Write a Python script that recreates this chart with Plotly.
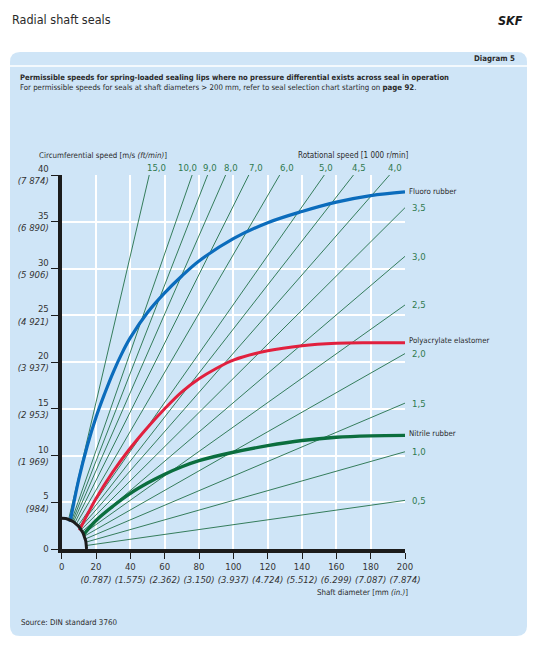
import numpy as np
import plotly.graph_objects as go

# axis ticks
shaft_diam_ticks = [0, 20, 40, 60, 80, 100, 120, 140, 160, 180, 200]
shaft_diam_in = ["", "0.787", "1.575", "2.362", "3.150", "3.937", "4.724", "5.512", "6.299", "7.087", "7.874"]
circ_speed_ticks = [0, 5, 10, 15, 20, 25, 30, 35, 40]
circ_speed_ftmin = ["", "984", "1 969", "2 953", "3 937", "4 921", "5 906", "6 890", "7 874"]

# rotational speed lines (1000 r/min) ending at the top edge (v = 40 m/s)
rot_top_labels = ["15,0", "10,0", "9,0", "8,0", "7,0", "6,0", "5,0", "4,5", "4,0"]
rot_top_end_d = [51, 76, 85, 95.5, 109, 127, 153, 170, 191]
rot_top_label_d = [55, 73, 86.5, 98.5, 113, 131, 154, 173, 194]
# rotational speed lines ending at the right edge (d = 200 mm)
rot_right_labels = ["3,5", "3,0", "2,5", "2,0", "1,5", "1,0", "0,5"]
rot_right_end_v = [36.5, 31.3, 26.1, 20.9, 15.6, 10.4, 5.2]

# permissible speed curves, shaft diameter [mm] vs circumferential speed [m/s]
fluoro_d = [4.9, 10, 15, 20, 25, 30, 35, 40, 50, 60, 70, 80, 100, 120, 140, 160, 180, 200]
fluoro_v = [2.9, 7.5, 11.1, 14.1, 16.6, 18.9, 20.9, 22.6, 25.3, 27.4, 29.2, 30.8, 33.2, 34.9, 36.1, 37.1, 37.8, 38.2]
polyacryl_d = [10.3, 15, 20, 30, 40, 50, 60, 70, 80, 90, 100, 120, 140, 160, 180, 200]
polyacryl_v = [2.0, 3.7, 5.4, 8.3, 10.8, 13.0, 15.0, 16.8, 18.2, 19.3, 20.2, 21.2, 21.75, 22.0, 22.05, 22.05]
nitrile_d = [12.6, 20, 30, 40, 50, 60, 70, 80, 100, 120, 140, 160, 180, 200]
nitrile_v = [1.5, 3.05, 4.6, 5.95, 7.05, 8.0, 8.8, 9.45, 10.35, 11.05, 11.6, 11.95, 12.1, 12.15]

# lower limit arc
arc_d = 14.5
arc_v = 3.3

BG = "#cfe5f7"
GREEN_LINE = "#22704a"
LABEL_GREEN = "#2f7a4f"
TXT = "#2a2a2a"
FONT = "Liberation Sans Narrow, DejaVu Sans Condensed, Roboto, sans-serif"

# the page puts the figure 8 px in from the top-left corner
W, H, OFF = 527, 637, 8

fig = go.Figure()

# radial lines
for d_end in rot_top_end_d:
    fig.add_trace(go.Scatter(x=[0, d_end], y=[0, 40], mode="lines",
                             line=dict(color=GREEN_LINE, width=0.9),
                             hoverinfo="skip", showlegend=False))
for v_end in rot_right_end_v:
    fig.add_trace(go.Scatter(x=[0, 200], y=[0, v_end], mode="lines",
                             line=dict(color=GREEN_LINE, width=0.9),
                             hoverinfo="skip", showlegend=False))

# hide lines inside the arc, then the arc itself
t = np.linspace(0, np.pi / 2, 40)
ax_ = np.concatenate([[0], arc_d * np.cos(t), [0]])
ay_ = np.concatenate([[0], arc_v * np.sin(t), [0]])
fig.add_trace(go.Scatter(x=ax_, y=ay_, mode="lines", fill="toself", fillcolor=BG,
                         line=dict(width=0), hoverinfo="skip", showlegend=False))

curves = [
    (fluoro_d, fluoro_v, "#0b6cbc", 3.2),
    (polyacryl_d, polyacryl_v, "#e1203e", 3.0),
    (nitrile_d, nitrile_v, "#0b6e3e", 3.4),
]
for xs, ys, col, w in curves:
    fig.add_trace(go.Scatter(x=xs, y=ys, mode="lines", line=dict(color=col, width=w, shape="spline", smoothing=1.0),
                             hoverinfo="skip", showlegend=False))

fig.add_trace(go.Scatter(x=arc_d * np.cos(t), y=arc_v * np.sin(t), mode="lines",
                         line=dict(color="#1c1c1c", width=3), hoverinfo="skip", showlegend=False))

ann = []
for lab, xd in zip(rot_top_labels, rot_top_label_d):
    ann.append(dict(x=xd, y=40, text=lab, showarrow=False, yshift=8, xanchor="center",
                    font=dict(size=9.5, color=LABEL_GREEN)))
for lab, yv in zip(rot_right_labels, rot_right_end_v):
    ann.append(dict(x=200, y=yv, text=lab, showarrow=False, xshift=5, xanchor="left",
                    font=dict(size=9.5, color=LABEL_GREEN)))
for lab, yv, ys in [("Fluoro rubber", fluoro_v[-1], 0), ("Polyacrylate elastomer", polyacryl_v[-1], 2),
                    ("Nitrile rubber", nitrile_v[-1], 2)]:
    ann.append(dict(x=200, y=yv, text=lab, showarrow=False, xshift=2, yshift=ys, xanchor="left",
                    font=dict(size=7.8, color=TXT)))


def paper(px, py):
    return (px - OFF) / W, 1 - (py - OFF) / H


def txt(px, py, s, size, anchor="left", bold=False, color=TXT):
    x, y = paper(px, py)
    if bold:
        s = "<b>" + s + "</b>"
    ann.append(dict(x=x, y=y, xref="paper", yref="paper", text=s, showarrow=False,
                    xanchor=anchor, yanchor="middle", font=dict(size=size, color=color)))


txt(10, 19, "Radial shaft seals", 12.5)
txt(525, 20, "<i>SKF</i>", 12.5, anchor="right", bold=True, color="#1a1a1a")
txt(517, 59, "Diagram 5", 7.8, anchor="right", bold=True)
txt(18, 77, "Permissible speeds for spring-loaded sealing lips where no pressure differential exists across seal in operation", 7.6, bold=True)
txt(18, 87, "For permissible speeds for seals at shaft diameters &gt; 200 mm, refer to seal selection chart starting on <b>page 92</b>.", 7.8)
txt(37, 155, "Circumferential speed [m/s <i>(ft/min)</i>]", 7.9)
txt(410, 155, "Rotational speed [1 000 r/min]", 8, anchor="right")
txt(410, 592, "Shaft diameter [mm <i>(in.)</i>]", 7.9, anchor="right")
txt(19, 622, "Source: DIN standard 3760", 7.9)

# panel background
x0, x1, y0, y1, r = 10, 527, 52, 636, 10
def P(px, py):
    a, b = paper(px, py)
    return f"{a:.5f},{b:.5f}"
panel = (f"M {P(x0 + r, y0)} L {P(x1 - r, y0)} Q {P(x1, y0)} {P(x1, y0 + r)} "
         f"L {P(x1, y1 - r)} Q {P(x1, y1)} {P(x1 - r, y1)} L {P(x0 + r, y1)} "
         f"Q {P(x0, y1)} {P(x0, y1 - r)} L {P(x0, y0 + r)} Q {P(x0, y0)} {P(x0 + r, y0)} Z")
sep_y = paper(0, 66)[1]
shapes = [
    dict(type="path", xref="paper", yref="paper", path=panel, fillcolor=BG, line=dict(width=0), layer="below"),
    dict(type="line", xref="paper", yref="paper", x0=paper(x0, 0)[0], x1=paper(x1, 0)[0], y0=sep_y, y1=sep_y,
         line=dict(color="white", width=1.5), layer="below"),
]

x_ticktext = ["0"] + [f"{v}<br><i>({s})</i>" for v, s in zip(shaft_diam_ticks[1:], shaft_diam_in[1:])]
y_ticktext = ["0"] + [f"{v}<br><i>({s})</i>" for v, s in zip(circ_speed_ticks[1:], circ_speed_ftmin[1:])]

xl, _ = paper(61.7, 0)
xr, _ = paper(405, 0)
_, yb = paper(0, 549)
_, yt = paper(0, 175)

fig.update_layout(
    width=W, height=H,
    margin=dict(l=0, r=0, t=0, b=0),
    paper_bgcolor="white", plot_bgcolor=BG,
    font=dict(family=FONT, color=TXT),
    annotations=ann, shapes=shapes,
    xaxis=dict(domain=[xl, xr], range=[0, 200], tickvals=shaft_diam_ticks, ticktext=x_ticktext,
               automargin=False, tickangle=0,
               showgrid=True, gridcolor="white", gridwidth=1.5, zeroline=False,
               showline=True, linecolor="#1c1c1c", linewidth=4, ticks="outside", ticklen=6,
               tickcolor="#1c1c1c", tickwidth=1, tickfont=dict(size=9.5, color="#333")),
    yaxis=dict(domain=[yb, yt], range=[0, 40], tickvals=circ_speed_ticks,
               ticktext=y_ticktext, automargin=False,
               showgrid=True, gridcolor="white", gridwidth=1.5, zeroline=False,
               showline=True, linecolor="#1c1c1c", linewidth=4, ticks="outside", ticklen=7,
               tickcolor="#1c1c1c", tickwidth=1, tickfont=dict(size=9.5, color="#333")),
)

fig.write_html("out.html")
